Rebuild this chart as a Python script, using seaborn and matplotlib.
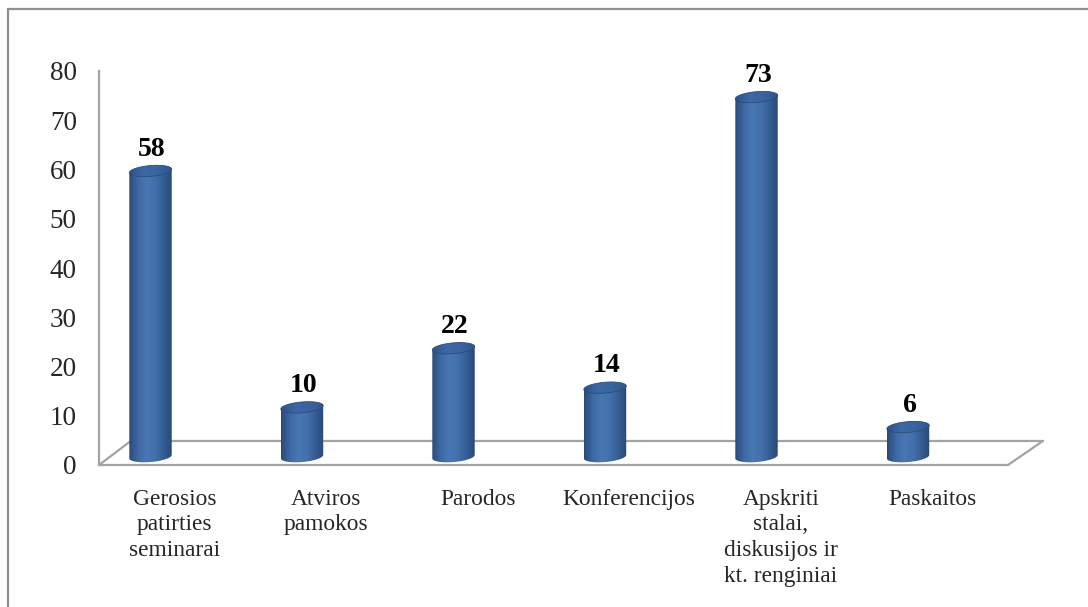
import numpy as np
import matplotlib
matplotlib.use('Agg')
import matplotlib.pyplot as plt
import seaborn as sns
from matplotlib.patches import Polygon
from matplotlib.colors import LinearSegmentedColormap

categories = ['Gerosios\npatirties\nseminarai', 'Atviros\npamokos', 'Parodos',
              'Konferencijos', 'Apskriti\nstalai,\ndiskusijos ir\nkt. renginiai',
              'Paskaitos']
values = [58, 10, 22, 14, 73, 6]
y_ticks = [0, 10, 20, 30, 40, 50, 60, 70, 80]

sns.set_style('white')
plt.rcParams['font.family'] = ['Liberation Serif', 'DejaVu Serif']

W, H = 1088, 607
fig = plt.figure(figsize=(W / 100, H / 100), dpi=100)
ax = fig.add_axes([99 / W, 1 - 465 / H, (1008 - 99) / W, (465 - 71) / H])

sns.barplot(x=categories, y=values, width=0.28, color='#3b64a0', ax=ax)

grey = '#a3a3a3'
body_cmap = LinearSegmentedColormap.from_list(
    'body', ['#2b4a79', '#3d68a3', '#4977b3', '#4371ac', '#365e95', '#2a4876'])
top_cmap = LinearSegmentedColormap.from_list(
    'top', ['#2d5083', '#3e68a4', '#3a63a0', '#30558a'])

dx = -0.16      # perspective shift of the cylinders
base = 1.7      # cylinders stand in the middle of the floor
b = 1.1         # half height of the ellipses (data units)
s = 2.5         # slight tilt of the ellipses

t = np.linspace(0, 2 * np.pi, 80)
for p, v in zip(ax.patches, values):
    p.set_visible(False)
    a = p.get_width() / 2
    cx = p.get_x() + a + dx
    top = base + p.get_height()

    # body: sides plus the lower half of the bottom ellipse
    tb = np.linspace(np.pi, 2 * np.pi, 40)
    xb = cx + a * np.cos(tb)
    yb = base + b * np.sin(tb) + s * (xb - cx)
    body = np.vstack([[cx - a, top - s * a], np.column_stack([xb, yb]),
                      [cx + a, top + s * a]])
    poly = Polygon(body, closed=True, transform=ax.transData, fc='none', ec='none')
    ax.add_patch(poly)
    im = ax.imshow(np.linspace(0, 1, 256).reshape(1, -1), cmap=body_cmap,
                   extent=[cx - a, cx + a, base - 3 * b, top + 3 * b],
                   aspect='auto', interpolation='bilinear', zorder=3)
    im.set_clip_path(poly)

    # top ellipse
    xt = cx + a * np.cos(t)
    yt = top + b * np.sin(t) + s * (xt - cx)
    ell = Polygon(np.column_stack([xt, yt]), closed=True, transform=ax.transData,
                  fc='none', ec='#2c4c7b', lw=0.6, zorder=5)
    ax.add_patch(ell)
    im2 = ax.imshow(np.linspace(0, 1, 256).reshape(1, -1), cmap=top_cmap,
                    extent=[cx - a, cx + a, top - 3 * b, top + 3 * b],
                    aspect='auto', interpolation='bilinear', zorder=4)
    im2.set_clip_path(ell)

    ax.text(cx + 0.01, top + b + 2.0, str(v), ha='center', va='baseline',
            fontsize=20, fontweight='bold', color='black', zorder=6)

# floor of the 3d chart
back_y = 4.87
ax.plot([-0.29, 5.73], [back_y, back_y], color=grey, lw=1.6, zorder=1, clip_on=False)
ax.plot([-0.5, -0.29], [0, back_y], color=grey, lw=1.6, zorder=1, clip_on=False)
ax.plot([5.5, 5.73], [0, back_y], color=grey, lw=1.6, zorder=1, clip_on=False)

ax.set_xlim(-0.5, 5.5)
ax.set_ylim(0, 80)
ax.set_yticks(y_ticks)
ax.set_xticks(range(len(categories)))
ax.set_xticklabels(categories, linespacing=1.3)
ax.tick_params(axis='y', length=0, pad=16, labelsize=19.5)
ax.tick_params(axis='x', length=0, pad=17, labelsize=16.8)
ax.set_xlabel('')
ax.set_ylabel('')
for side in ['top', 'right']:
    ax.spines[side].set_visible(False)
for side in ['left', 'bottom']:
    ax.spines[side].set_color(grey)
    ax.spines[side].set_linewidth(1.6)

# outer frame
fig.add_artist(plt.Line2D([8 / W, 8 / W], [0, 1 - 9 / H], color='#8f8f8f', lw=1.6))
fig.add_artist(plt.Line2D([8 / W, 1], [1 - 9 / H, 1 - 9 / H], color='#8f8f8f', lw=1.6))

fig.savefig('out.png', dpi=100)
